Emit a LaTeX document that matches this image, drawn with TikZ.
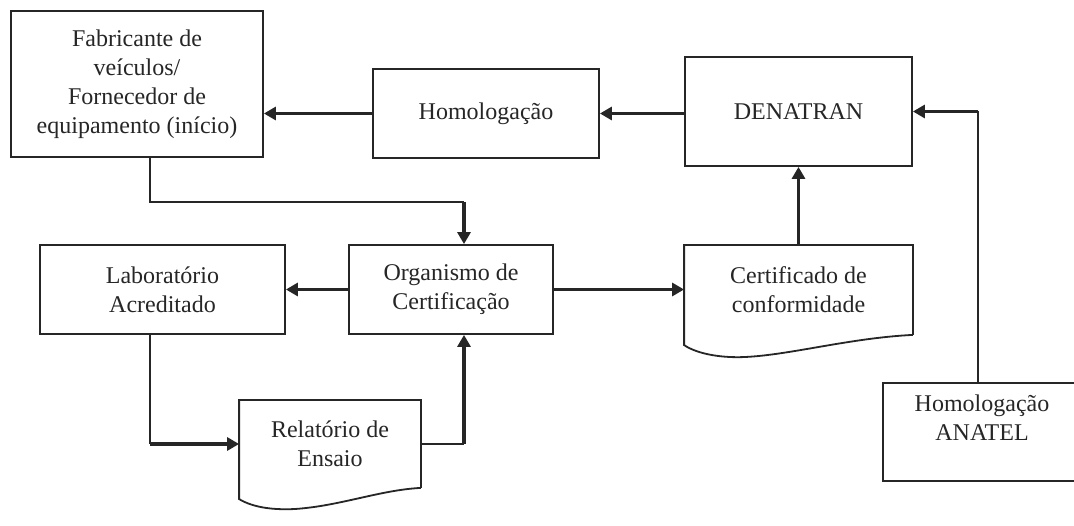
\documentclass[tikz,border=0pt]{standalone}
\usepackage{fontspec}
\setmainfont{Liberation Serif}
\usepackage{tikz}
\usetikzlibrary{positioning,arrows.meta,calc}
\usepackage{xcolor}
\definecolor{ink}{HTML}{262626}

\tikzset{
  box/.style={draw=ink, line width=1.8pt, align=center, inner sep=0pt,
    font=\fontsize{24}{29}\selectfont, text=ink},
  docbox/.style={box, draw=none},
  link/.style={draw=ink, line width=1.8pt},
  flow/.style={draw=ink, line width=3.6pt,
    -{Triangle[length=12pt,width=13pt]}}
}

\begin{document}
\begin{tikzpicture}[x=1pt,y=-1pt]
  % page frame = 1074 x 526 px, y runs downwards
  \clip (0,0) rectangle (1074,526);
  \fill[white] (0,0) rectangle (1074,526);

  % top row
  \node[box, minimum width=252pt, minimum height=146pt] (fab) at (137,84)
    {Fabricante de\\veículos/\\Fornecedor de\\equipamento (início)};
  \node[box, minimum width=226pt, minimum height=89pt] (hom) at (486,113.5)
    {Homologação};
  \node[box, minimum width=227pt, minimum height=109pt] (den) at (798.5,111.5)
    {DENATRAN};

  % middle row
  \node[box, minimum width=245pt, minimum height=89pt] (lab) at (162.5,289.5)
    {Laboratório\\Acreditado};
  \node[box, minimum width=204pt, minimum height=89pt] (org) at (451,289.5)
    {Organismo de\\Certificação};
  \node[docbox, minimum width=227pt, minimum height=88pt] (cert) at (798.5,290)
    {Certificado de\\conformidade};

  % bottom row
  \node[docbox, minimum width=180pt, minimum height=86pt] (rel) at (330,444)
    {Relatório de\\Ensaio};
  \node[box, draw=none, minimum width=196pt, minimum height=96pt,
    text depth=28pt] (anatel) at (982,432)
    {Homologação\\ANATEL};
  % ANATEL box runs off the right edge
  \draw[link] (anatel.north east) -- (anatel.north west)
    -- (anatel.south west) -- (anatel.south east);

  % document outlines (wavy bottom)
  \draw[link] (cert.south east) -- (cert.north east) -- (cert.north west)
    -- ++(0,100) .. controls ++(15,10) and (725,358) .. (745,357)
    .. controls (790,355) and (850,338) .. (cert.south east);
  \draw[link] (rel.south east) -- (rel.north east) -- (rel.north west)
    -- ++(0,99) .. controls ++(15,9) and (275,510) .. (295,509)
    .. controls (340,506) and (380,490) .. (rel.south east);

  % bends
  \coordinate (k1) at ([xshift=13pt]org.north |- 0,202);
  \coordinate (k2) at ([xshift=-12.5pt]lab.south |- rel.west);
  \coordinate (k3) at (anatel.north -| 978,0);
  \coordinate (k4) at (rel.east -| k1);

  % connectors
  \draw[flow] (hom.west) -- (fab.east |- hom.west);
  \draw[flow] (den.west |- hom.east) -- (hom.east);
  \draw[link] (k3) -- (k3 |- den.east);
  \draw[flow] (k3 |- den.east) -- (den.east);
  \draw[flow] (cert.north) -- (den.south);
  \draw[flow] (org.east) -- (org.east -| cert.west);
  \draw[flow] (org.west) -- (lab.east);
  \draw[link] ([xshift=13pt]fab.south) |- (k1);
  \draw[flow] (k1) -- ([xshift=13pt]org.north);
  \draw[link] (lab.south -| k2) -- (k2);
  \draw[flow] (k2) -- (rel.west);
  \draw[link] (rel.east) -- (k4);
  \draw[flow] (k4) -- (k4 |- org.south);
\end{tikzpicture}
\end{document}
